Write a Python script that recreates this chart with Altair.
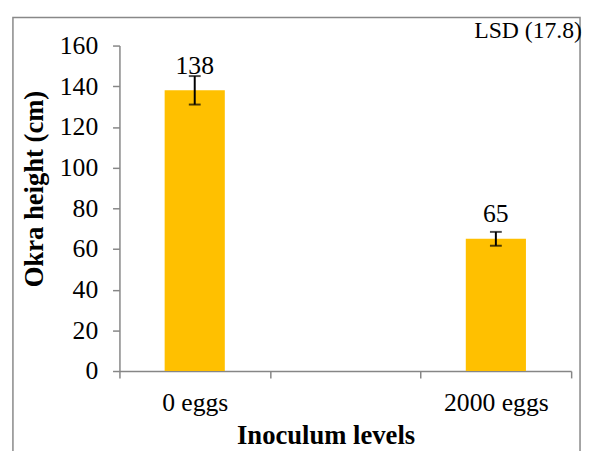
import altair as alt
import pandas as pd

categories = ["0 eggs", "2000 eggs"]
domain_cats = ["0 eggs", "gap", "2000 eggs"]
heights = [138, 65]
errors = [7.0, 3.4]
bar_labels = ["138", "65"]
y_ticks = [0, 20, 40, 60, 80, 100, 120, 140, 160]
lsd_text = "LSD (17.8)"

df = pd.DataFrame({
    "cat": categories,
    "h": heights,
    "lo": [h - e for h, e in zip(heights, errors)],
    "hi": [h + e for h, e in zip(heights, errors)],
    "lab": bar_labels,
})

W, H = 458, 330
FONT = "Liberation Serif"
GRAY = "#868686"

xenc = alt.X("cat:N", scale=alt.Scale(domain=domain_cats, paddingInner=0, paddingOuter=0),
             axis=alt.Axis(title="Inoculum levels", labelExpr="datum.value == 'gap' ? '' : datum.label",
                           labelAngle=0, tickBand="extent", tickSize=7, tickColor=GRAY, domainColor=GRAY,
                           tickWidth=1.5, domainWidth=1.5,
                           labelFont=FONT, labelFontSize=26, labelColor="black", labelPadding=12,
                           titleFont=FONT, titleFontSize=27, titleFontWeight="bold", titleColor="black",
                           titleX=209, titleY=65, titleBaseline="middle", titleAlign="center"))
yscale = alt.Scale(domain=[0, 160], nice=False)
yaxis = alt.Axis(title="Okra height (cm)", values=y_ticks, grid=False, tickSize=7, tickColor=GRAY,
                 domainColor=GRAY, tickWidth=1.5, domainWidth=1.5,
                 labelFont=FONT, labelFontSize=26, labelColor="black", labelPadding=15,
                 titleFont=FONT, titleFontSize=27, titleFontWeight="bold", titleColor="black",
                 titleX=-86, titleY=145, titleBaseline="middle", titleAlign="center", titleAngle=-90)

base = alt.Chart(df)
bars = base.mark_bar(color="#FFC000", size=61).encode(x=xenc, y=alt.Y("h:Q", scale=yscale, axis=yaxis))
rules = base.mark_rule(color="black", strokeWidth=2).encode(x=alt.X("cat:N"), y="lo:Q", y2="hi:Q")
cap_lo = base.mark_tick(color="black", size=12, thickness=2, orient="horizontal").encode(x=alt.X("cat:N"), y="lo:Q")
cap_hi = base.mark_tick(color="black", size=12, thickness=2, orient="horizontal").encode(x=alt.X("cat:N"), y="hi:Q")
texts = base.mark_text(font=FONT, fontSize=26, color="black", baseline="alphabetic", dy=-17).encode(
    x=alt.X("cat:N"), y="h:Q", text="lab:N")

one = alt.Chart(pd.DataFrame({"t": [lsd_text]}))
lsd = one.mark_text(font=FONT, fontSize=24, color="black", align="right", baseline="middle").encode(
    x=alt.value(W + 11), y=alt.value(-15), text="t:N")
border = one.mark_rect(fill=None, stroke="#888888", strokeWidth=1.5).encode(
    x=alt.value(-108), x2=alt.value(W + 9), y=alt.value(-28.5), y2=alt.value(H + 200))

chart = alt.layer(border, bars, rules, cap_lo, cap_hi, texts, lsd).properties(
    width=W, height=H,
    autosize=alt.AutoSizeParams(type="none"),
    padding={"left": 113, "top": 35, "right": 11, "bottom": 78},
).configure_view(stroke=None)

chart.save("out.html", embed_options={"renderer": "svg", "actions": False})
